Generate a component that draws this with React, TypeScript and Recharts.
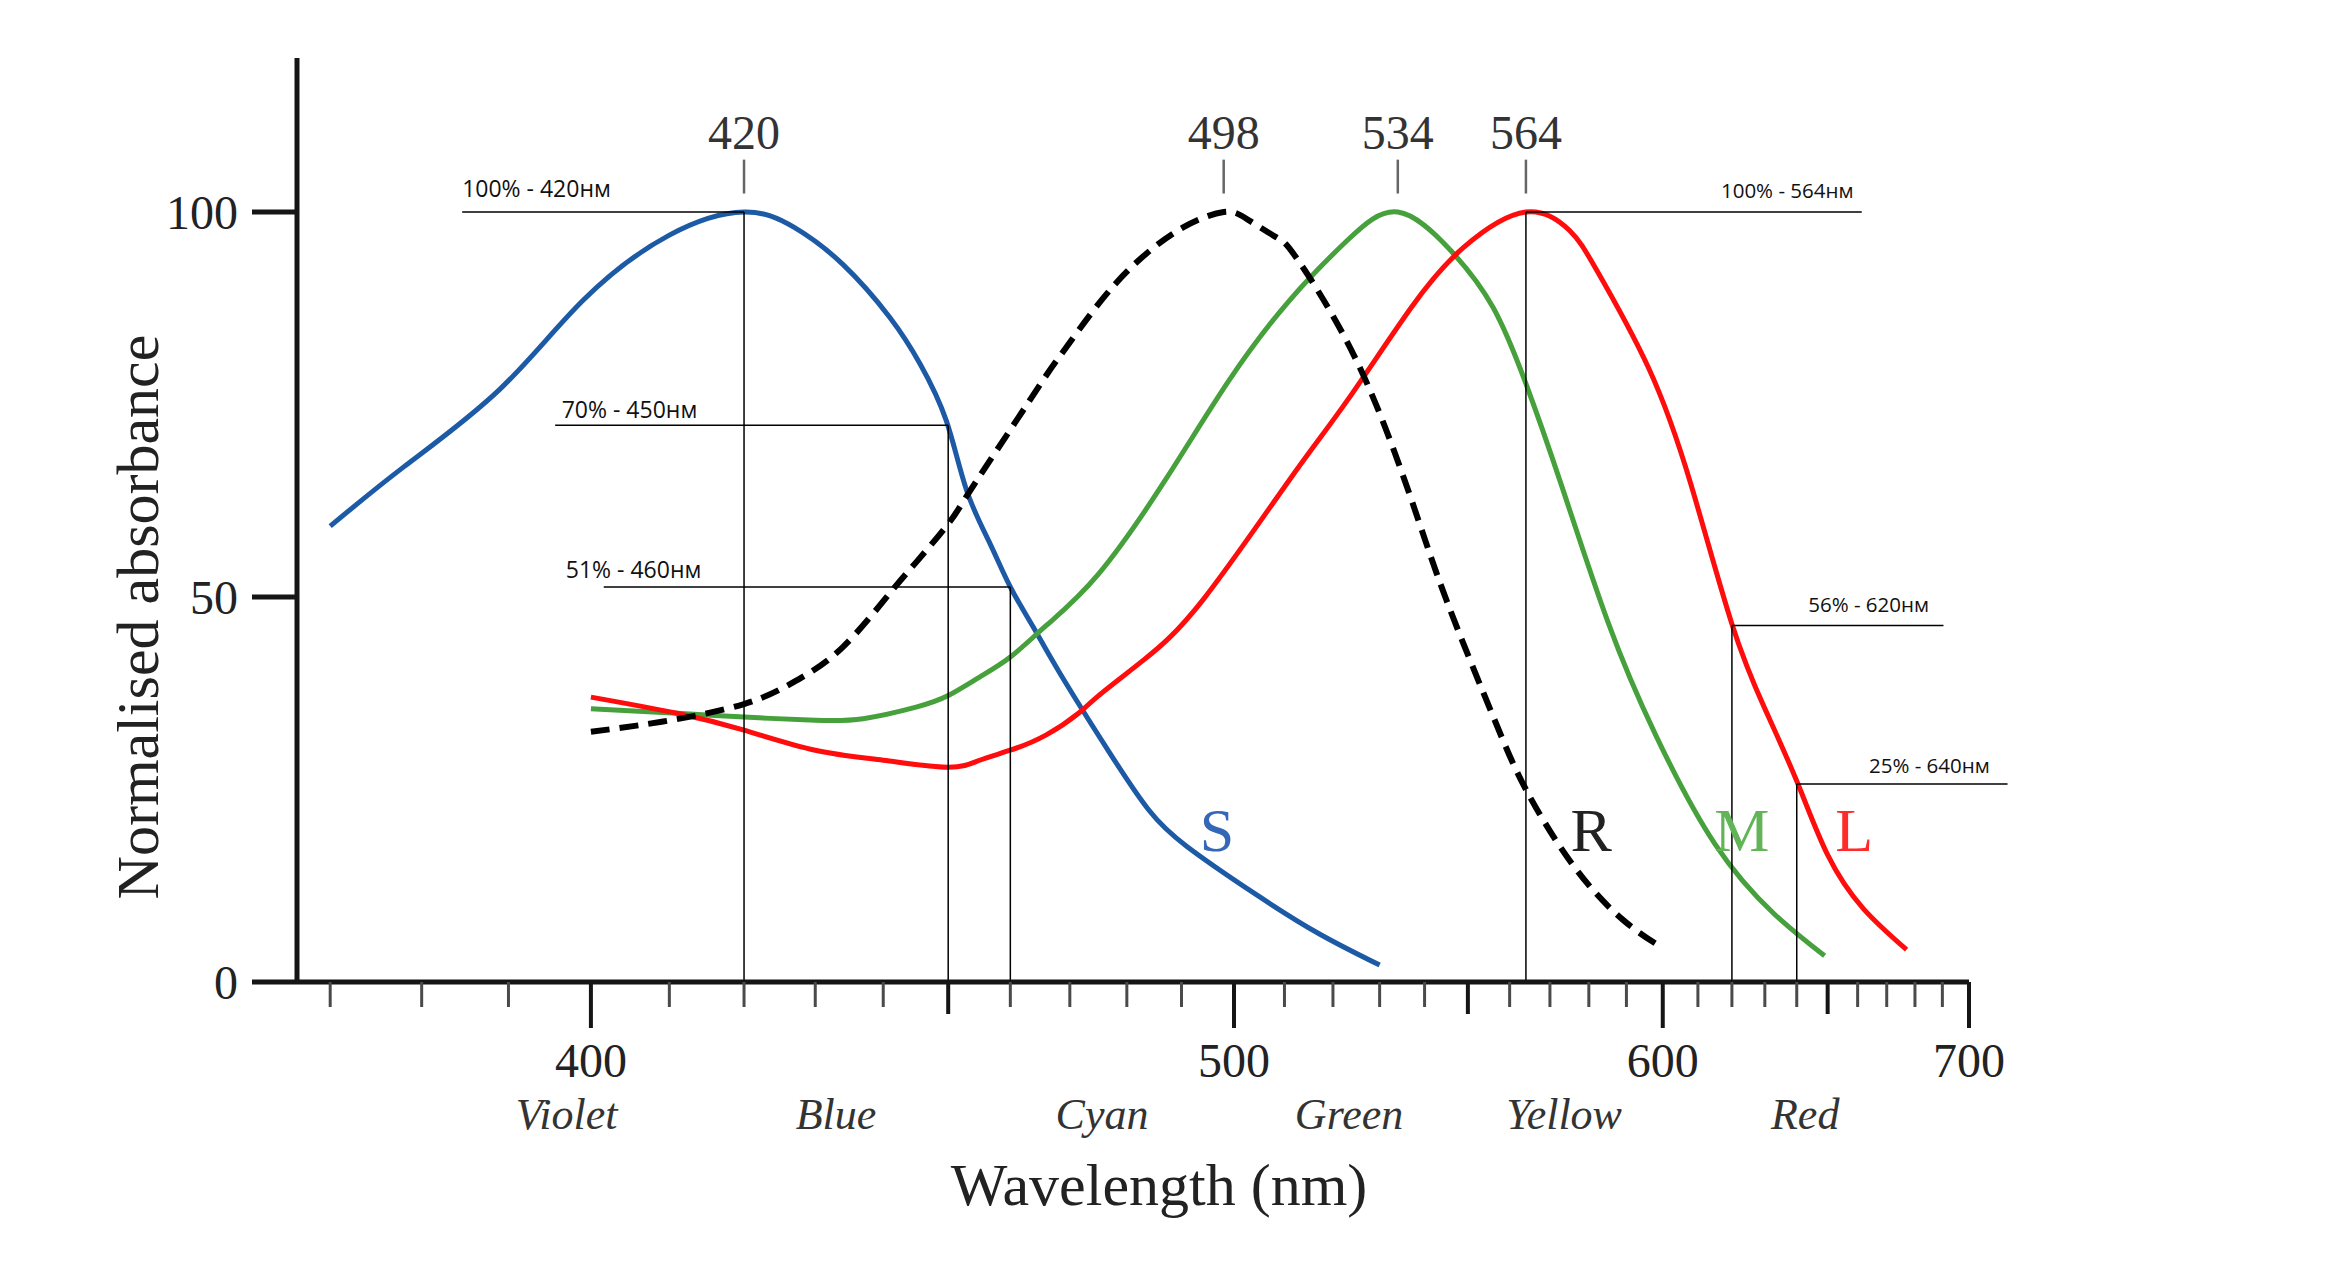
import {
  LineChart,
  Line,
  XAxis,
  YAxis,
  ReferenceLine,
  ReferenceDot,
} from "recharts";

// wavelengths (nm) and normalised absorbance (%)
const S_NM = [370, 378, 389, 399, 410, 420, 427, 434, 441, 445.6, 449.7, 452.9, 456.7, 460, 463.8, 468.3, 477, 484, 491, 504, 517, 530];
const S_ABS = [59.2, 66.9, 77, 88.5, 97, 100, 98, 93.2, 86.3, 80.3, 72.9, 63.9, 56.9, 51.3, 46.1, 40.1, 29.7, 22.3, 17.6, 11.5, 6.3, 2.2];

const R_NM = [400, 409, 420, 427.4, 434, 441, 445, 450, 453, 459.4, 466, 469, 474.7, 481.8, 490.3, 498, 502.5, 508.4, 512.8, 525, 536.7, 545, 556, 564, 576, 589, 600];
const R_ABS = [32.5, 33.8, 36.1, 39.2, 43.5, 50.5, 54.5, 59.5, 63.2, 71, 78.8, 82, 87.8, 93.5, 98, 100, 99.1, 96.7, 93.7, 80.7, 63.2, 49.6, 34.5, 25, 15.1, 8.1, 4.4];

const M_NM = [400, 411, 420, 430, 437, 445, 450, 455, 460, 466, 475, 487, 499, 511, 523, 534, 546, 556, 564, 573, 585, 598, 615, 633, 649];
const M_ABS = [35.5, 34.9, 34.4, 34, 34.2, 35.7, 37.2, 39.6, 42.2, 46.3, 53, 65.2, 78.1, 88.5, 96.3, 100, 95, 87.6, 77.7, 64.4, 46.8, 32.1, 17.9, 8.8, 3.4];

const L_NM = [400, 411, 420, 430, 440, 450, 455, 460, 466, 471.5, 475, 483, 494, 511, 523, 537, 549, 564, 575, 582, 596, 608, 620, 630, 640, 650, 662, 677];
const L_ABS = [37, 34.9, 32.7, 30.1, 28.8, 27.9, 28.8, 30.1, 32.1, 34.9, 37.2, 41.8, 49.6, 65.2, 75.5, 87.6, 95.4, 100, 97.6, 92.5, 79.8, 64.6, 46.5, 35.5, 26.1, 16.5, 9.5, 4.2];

const X_TICKS_NM = [
  370, 380, 390, 400, 410, 420, 430, 440, 450, 460, 470, 480, 490, 500, 510, 520, 530,
  540, 550, 560, 570, 580, 590, 600, 610, 620, 630, 640, 650, 660, 670, 680, 690, 700,
];
const Y_TICKS = [0, 50, 100];

const BAND_NAMES = ["Violet", "Blue", "Cyan", "Green", "Yellow", "Red"];
const BAND_NM = [397, 433, 475.6, 523.4, 573.6, 642.7];

const PEAK_NM = [420, 498, 534, 564];

const ANNOTATIONS = [
  { text: "100% - 420нм", nm: 420, level: 100, from: 384.6, to: 420, textNm: 384.6, textLevel: 101.9, side: "left" },
  { text: "70% - 450нм", nm: 450, level: 72.3, from: 395.6, to: 450, textNm: 396.4, textLevel: 73.2, side: "left" },
  { text: "51% - 460нм", nm: 460, level: 51.3, from: 401.6, to: 460, textNm: 396.9, textLevel: 52.5, side: "left" },
  { text: "100% - 564нм", nm: 564, level: 100, from: 564, to: 661.4, textNm: 658.6, textLevel: 101.8, side: "right" },
  { text: "56% - 620нм", nm: 620, level: 46.3, from: 620, to: 690.4, textNm: 685.1, textLevel: 48, side: "right" },
  { text: "25% - 640нм", nm: 640, level: 25.7, from: 640, to: 715, textNm: 708, textLevel: 27.1, side: "right" },
];

const SERIF = "'Liberation Serif', 'DejaVu Serif', serif";
const SANS = "'Open Sans', 'Noto Sans', sans-serif";
const AXIS = "#151515";

// plot on a reciprocal-wavelength (wavenumber) scale, like the original figure
const toNu = (nm: number) => 1e7 / nm;
const series = (nm: number[], abs: number[]) => nm.map((w, i) => ({ nu: toNu(w), v: abs[i] }));

const S_DATA = series(S_NM, S_ABS);
const R_DATA = series(R_NM, R_ABS);
const M_DATA = series(M_NM, M_ABS);
const L_DATA = series(L_NM, L_ABS);

const LETTERS = [
  { text: "S", nm: 496.7, color: "#3467b8" },
  { text: "R", nm: 580.6, color: "#222222" },
  { text: "M", nm: 623, color: "#62b556" },
  { text: "L", nm: 658.8, color: "#ff2a2a" },
];

const X_DOMAIN = [toNu(700), toNu(366.5)];

function WaveTick(props: any) {
  const { x, y, payload } = props;
  const nm = Math.round(1e7 / payload.value);
  const major = nm % 100 === 0;
  const mid = nm % 50 === 0;
  const len = major ? 46 : mid ? 32 : 25;
  return (
    <g>
      <line
        x1={x}
        x2={x}
        y1={y}
        y2={y + len}
        stroke={mid ? AXIS : "#4a4a4a"}
        strokeWidth={mid ? 4 : 3}
      />
      {major && (
        <text x={x} y={y + 95} textAnchor="middle" fontFamily={SERIF} fontSize={48} fill="#222">
          {nm}
        </text>
      )}
    </g>
  );
}

function BandTick(props: any) {
  const { x, y, index } = props;
  return (
    <text
      x={x}
      y={y + 146}
      textAnchor="middle"
      fontFamily={SERIF}
      fontStyle="italic"
      fontSize={44}
      fill="#333"
    >
      {BAND_NAMES[index]}
    </text>
  );
}

const textLabel =
  (text: string, opts: { anchor: string; size: number; family: string; fill: string }) =>
  (p: any) => {
    const vb = p.viewBox || {};
    return (
      <text
        x={vb.x}
        y={vb.y}
        textAnchor={opts.anchor}
        fontFamily={opts.family}
        fontSize={opts.size}
        fill={opts.fill}
      >
        {text}
      </text>
    );
  };

export default function App() {
  return (
    <div style={{ width: 2312, height: 1258 }}>
      <LineChart
        width={2312}
        height={1258}
        margin={{ top: 50, right: 351, left: 0, bottom: 282 }}
      >
        <XAxis
          type="number"
          dataKey="nu"
          domain={X_DOMAIN}
          allowDataOverflow
          reversed
          ticks={X_TICKS_NM.map(toNu)}
          interval={0}
          height={1}
          tickSize={0}
          tickMargin={0}
          tickLine={false}
          axisLine={{ stroke: AXIS, strokeWidth: 5 }}
          tick={<WaveTick />}
          label={{
            content: (p: any) => {
              const vb = p.viewBox;
              return (
                <text
                  x={vb.x + vb.width / 2 + 26}
                  y={vb.y + 223}
                  textAnchor="middle"
                  fontFamily={SERIF}
                  fontSize={60}
                  fill="#222"
                >
                  Wavelength (nm)
                </text>
              );
            },
          }}
        />
        <XAxis
          xAxisId="bands"
          type="number"
          dataKey="nu"
          domain={X_DOMAIN}
          allowDataOverflow
          reversed
          ticks={BAND_NM.map(toNu)}
          interval={0}
          height={1}
          tickSize={0}
          tickMargin={0}
          tickLine={false}
          axisLine={false}
          tick={<BandTick />}
        />
        <YAxis
          type="number"
          domain={[0, 120]}
          allowDataOverflow
          ticks={Y_TICKS}
          interval={0}
          width={289}
          tickSize={45}
          tickMargin={14}
          tickLine={{ stroke: AXIS, strokeWidth: 5 }}
          axisLine={{ stroke: AXIS, strokeWidth: 5 }}
          tick={{ fontSize: 48, fontFamily: SERIF, fill: "#222" }}
          label={{
            content: (p: any) => {
              const vb = p.viewBox;
              const cx = vb.x + vb.width - 139;
              const cy = vb.y + vb.height * 0.605;
              return (
                <text
                  x={cx}
                  y={cy}
                  transform={`rotate(-90, ${cx}, ${cy})`}
                  textAnchor="middle"
                  fontFamily={SERIF}
                  fontSize={60}
                  fill="#222"
                >
                  Normalised absorbance
                </text>
              );
            },
          }}
        />

        <Line data={S_DATA} dataKey="v" type="natural" stroke="#1d5aa6" strokeWidth={5} dot={false} activeDot={false} isAnimationActive={false} />
        <Line data={M_DATA} dataKey="v" type="natural" stroke="#46a03c" strokeWidth={5} dot={false} activeDot={false} isAnimationActive={false} />
        <Line data={L_DATA} dataKey="v" type="natural" stroke="#ff0d0d" strokeWidth={5} dot={false} activeDot={false} isAnimationActive={false} />
        <Line data={R_DATA} dataKey="v" type="natural" stroke="#000" strokeWidth={6} strokeDasharray="19 10" dot={false} activeDot={false} isAnimationActive={false} />

        {ANNOTATIONS.map((a) => (
          <ReferenceLine
            key={a.text + "-h"}
            segment={[
              { x: toNu(a.from), y: a.level },
              { x: toNu(a.to), y: a.level },
            ]}
            stroke="#000"
            strokeWidth={1.5}
            ifOverflow="visible"
          />
        ))}
        {ANNOTATIONS.map((a) => (
          <ReferenceLine
            key={a.text + "-v"}
            segment={[
              { x: toNu(a.nm), y: 0 },
              { x: toNu(a.nm), y: a.level },
            ]}
            stroke="#000"
            strokeWidth={1.5}
            ifOverflow="visible"
          />
        ))}
        {ANNOTATIONS.map((a) => (
          <ReferenceDot
            key={a.text + "-t"}
            x={toNu(a.textNm)}
            y={a.textLevel}
            r={0}
            fill="none"
            stroke="none"
            ifOverflow="visible"
            label={textLabel(a.text, {
              anchor: a.side === "left" ? "start" : "end",
              size: a.side === "left" ? 23 : 20.5,
              family: SANS,
              fill: "#111",
            })}
          />
        ))}

        {PEAK_NM.map((nm) => (
          <ReferenceLine
            key={"peak-" + nm}
            segment={[
              { x: toNu(nm), y: 102.4 },
              { x: toNu(nm), y: 106.8 },
            ]}
            stroke="#666"
            strokeWidth={2.5}
            ifOverflow="visible"
          />
        ))}
        {PEAK_NM.map((nm) => (
          <ReferenceDot
            key={"peak-t-" + nm}
            x={toNu(nm)}
            y={108.2}
            r={0}
            fill="none"
            stroke="none"
            ifOverflow="visible"
            label={textLabel(String(nm), { anchor: "middle", size: 48, family: SERIF, fill: "#333" })}
          />
        ))}

        {LETTERS.map((l) => (
          <ReferenceDot
            key={"letter-" + l.text}
            x={toNu(l.nm)}
            y={17}
            r={0}
            fill="none"
            stroke="none"
            ifOverflow="visible"
            label={textLabel(l.text, { anchor: "middle", size: 62, family: SERIF, fill: l.color })}
          />
        ))}
      </LineChart>
    </div>
  );
}
